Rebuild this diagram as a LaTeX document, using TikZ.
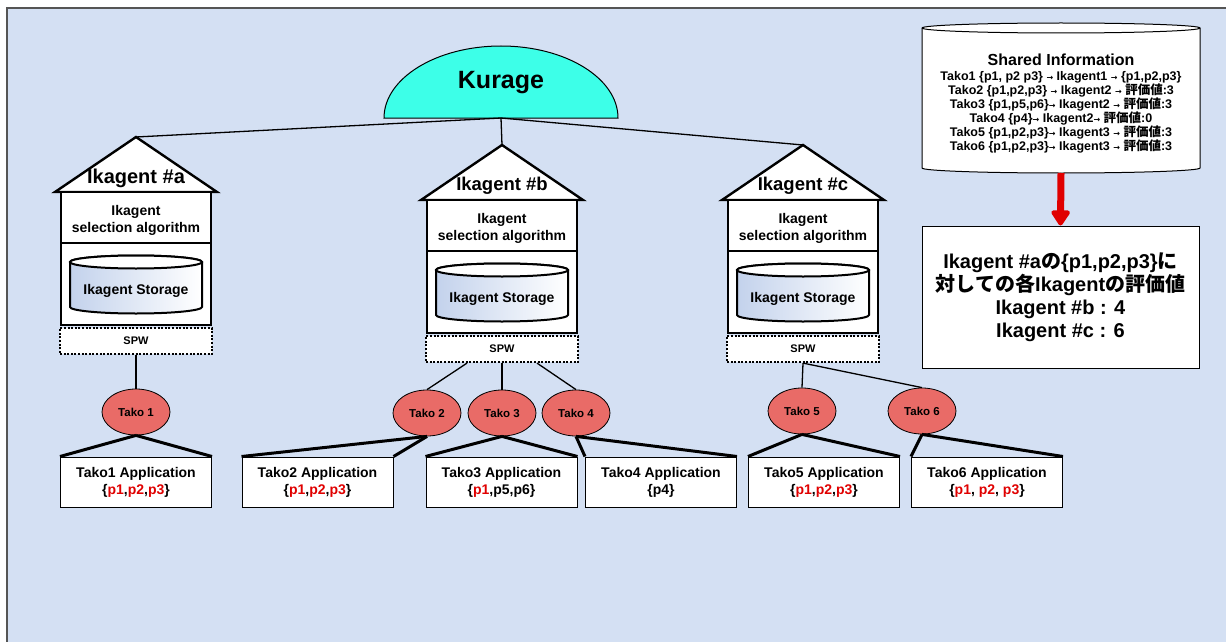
\documentclass[tikz,border=0pt]{standalone}
\usepackage{fontspec}
\setmainfont{Liberation Sans}
\newfontfamily\jp{Noto Sans CJK JP}
\newfontfamily\symf{DejaVu Sans}
\usetikzlibrary{shapes.geometric,arrows.meta}

\definecolor{bgblue}{HTML}{D4E0F3}
\definecolor{framegray}{HTML}{555555}
\definecolor{kuragecyan}{HTML}{3DFFE8}
\definecolor{takored}{HTML}{E96B67}
\definecolor{pred}{HTML}{E00000}
\definecolor{storeblue}{HTML}{C3D2EC}

% small arrow and the Japanese word used in the shared table
\newcommand{\tarr}{{\symf\fontsize{8}{8}\selectfont →}}
\newcommand{\hyouka}{{\jp 評価値}}
\newcommand{\rp}[1]{\textcolor{pred}{#1}}

% one Ikagent house: #1 name, #2 centre x, #3 roof base y, #4 label, #5 label size
\newcommand{\ikhouse}[5]{%
  \coordinate (#1peak) at (#2,#3-55);
  \draw[roofline] (#2-81,#3) -- (#1peak) -- (#2+81,#3) -- cycle;
  \node[rooflbl,font=\bfseries\fontsize{#5}{#5}\selectfont] (#1lbl) at (#2,#3-14) {#4};
  \node[selbox] (#1sel) at (#2,#3+25.5) {};
  \node[sellbl] (#1sellbl) at (#2,#3+28) {Ikagent\\selection algorithm};
  \node[stobox] (#1sto) at (#2,#3+92) {};
  \path[cylline,left color=storeblue,right color=white]
    (#2-66,#3+70) -- (#2-66,#3+115)
    arc[start angle=180,end angle=360,x radius=66pt,y radius=6.5pt]
    -- (#2+66,#3+70)
    arc[start angle=0,end angle=180,x radius=66pt,y radius=6.5pt] -- cycle;
  \draw[cylline,fill=white] (#2,#3+70) ellipse[x radius=66pt,y radius=6.5pt];
  \node[stolbl] (#1stolbl) at (#2,#3+99) {Ikagent Storage};
  \node[spwbox] (#1spw) at (#2,#3+149) {SPW};
}

\begin{document}
\begin{tikzpicture}[x=1pt,y=-1pt,
  thinline/.style={line width=1.3pt},
  thickline/.style={line width=3pt},
  roofline/.style={line width=2.4pt,fill=white,line join=miter},
  rooflbl/.style={inner sep=0pt},
  selbox/.style={draw,line width=1.3pt,fill=white,minimum width=150pt,minimum height=51pt,inner sep=0pt},
  sellbl/.style={inner sep=0pt,align=center,font=\bfseries\fontsize{14}{17}\selectfont},
  stobox/.style={draw,line width=1.3pt,fill=white,minimum width=150pt,minimum height=82pt,inner sep=0pt},
  cylline/.style={draw,line width=2pt},
  stolbl/.style={inner sep=0pt,font=\bfseries\fontsize{14}{14}\selectfont},
  spwbox/.style={draw,line width=2.2pt,dash pattern=on 2pt off 1.6pt,fill=white,
    minimum width=152pt,minimum height=26pt,inner sep=0pt,font=\bfseries\fontsize{11}{11}\selectfont},
  tako/.style={ellipse,draw,line width=0.8pt,fill=takored,minimum width=68pt,minimum height=46pt,
    inner sep=0pt,font=\bfseries\fontsize{11.5}{12}\selectfont},
  appbox/.style={draw,line width=1pt,fill=white,minimum width=151pt,minimum height=50pt,
    inner sep=0pt,align=center,font=\bfseries\fontsize{14}{17}\selectfont},
  redarrow/.style={line width=7pt,draw=pred,-{Triangle[width=21pt,length=17pt,round]}}
]
\useasboundingbox (0,0) rectangle (1226,642);

% page frame
\fill[bgblue] (7,8) rectangle (1226,642);
\draw[framegray,line width=1.5pt] (7,642) -- (7,8) -- (1226,8);

% Kurage
\coordinate (kbase) at (501,118);
\draw[line width=1pt,fill=kuragecyan] (384,118)
  arc[start angle=180,end angle=0,x radius=117pt,y radius=72pt] -- cycle;
\node[inner sep=0pt,font=\bfseries\fontsize{25}{25}\selectfont] (kurage) at (501,83) {Kurage};

% Ikagent houses
\ikhouse{ha}{136}{192}{Ikagent \#a}{20}
\ikhouse{hb}{502}{200}{Ikagent \#b}{18.5}
\ikhouse{hc}{803}{200}{Ikagent \#c}{18.5}

\draw[thinline] (kbase) -- (hapeak);
\draw[thinline] (kbase) -- (hbpeak);
\draw[thinline] (kbase) -- (hcpeak);

% Tako nodes
\node[tako] (t1) at (136,412) {Tako 1};
\node[tako] (t2) at (427,413) {Tako 2};
\node[tako] (t3) at (502,413) {Tako 3};
\node[tako] (t4) at (576,413) {Tako 4};
\node[tako] (t5) at (802,411) {Tako 5};
\node[tako] (t6) at (922,411) {Tako 6};

\draw[thinline] (haspw.south) -- (t1.north);
\draw[thinline] ([xshift=-35pt]hbspw.south) -- (t2.north);
\draw[thinline] (hbspw.south) -- (t3.north);
\draw[thinline] ([xshift=35pt]hbspw.south) -- (t4.north);
\draw[thinline] (hcspw.south) -- (t5.north);
\draw[thinline] (hcspw.south) -- (t6.north);

% applications
\node[appbox] (app1) at (136,482) {Tako1 Application\\\{\rp{p1},\rp{p2},\rp{p3}\}};
\node[appbox] (app2) at (317.5,482) {Tako2 Application\\\{\rp{p1},\rp{p2},\rp{p3}\}};
\node[appbox] (app3) at (501.5,482) {Tako3 Application\\\{\rp{p1},p5,p6\}};
\node[appbox] (app4) at (661,482) {Tako4 Application\\\{p4\}};
\node[appbox] (app5) at (824,482) {Tako5 Application\\\{\rp{p1},\rp{p2},\rp{p3}\}};
\node[appbox] (app6) at (987,482) {Tako6 Application\\\{\rp{p1}, \rp{p2}, \rp{p3}\}};

\foreach \i in {1,...,6}{
  \draw[thickline] (t\i.south) -- (app\i.north west);
  \draw[thickline] (t\i.south) -- (app\i.north east);
}

% shared information store
\draw[line width=1pt,fill=white] (922,28) -- (922,168)
  arc[start angle=180,end angle=360,x radius=139pt,y radius=5pt]
  -- (1200,28)
  arc[start angle=0,end angle=180,x radius=139pt,y radius=5pt] -- cycle;
\draw[line width=1pt] (922,28) arc[start angle=180,end angle=360,x radius=139pt,y radius=5pt];
\coordinate (shbot) at (1061,173);
\node[inner sep=0pt,font=\bfseries\fontsize{16}{16}\selectfont] (shtitle) at (1061,60) {Shared Information};
\node[inner sep=0pt,align=center,font=\bfseries\fontsize{12.5}{14}\selectfont] (shbody) at (1061,112) {%
Tako1 \{p1, p2 p3\} \tarr{} Ikagent1 \tarr{} \{p1,p2,p3\}\\
Tako2 \{p1,p2,p3\} \tarr{} Ikagent2 \tarr{} \hyouka:3\\
Tako3 \{p1,p5,p6\}\tarr{} Ikagent2 \tarr{} \hyouka:3\\
Tako4 \{p4\}\tarr{} Ikagent2\tarr{} \hyouka:0\\
Tako5 \{p1,p2,p3\}\tarr{} Ikagent3 \tarr{} \hyouka:3\\
Tako6 \{p1,p2,p3\}\tarr{} Ikagent3 \tarr{} \hyouka:3};

% evaluation result
\node[draw,line width=1pt,fill=white,minimum width=277pt,minimum height=142pt,inner sep=0pt,
  align=center,font=\bfseries\fontsize{20}{23}\selectfont] (result) at (1060.5,297) {%
Ikagent \#a{\jp の}\{p1,p2,p3\}{\jp に}\\
{\jp 対しての各}Ikagent{\jp の評価値}\\
Ikagent \#b : 4\\
Ikagent \#c : 6};

\draw[redarrow] (shbot) -- (result.north);
\end{tikzpicture}
\end{document}
